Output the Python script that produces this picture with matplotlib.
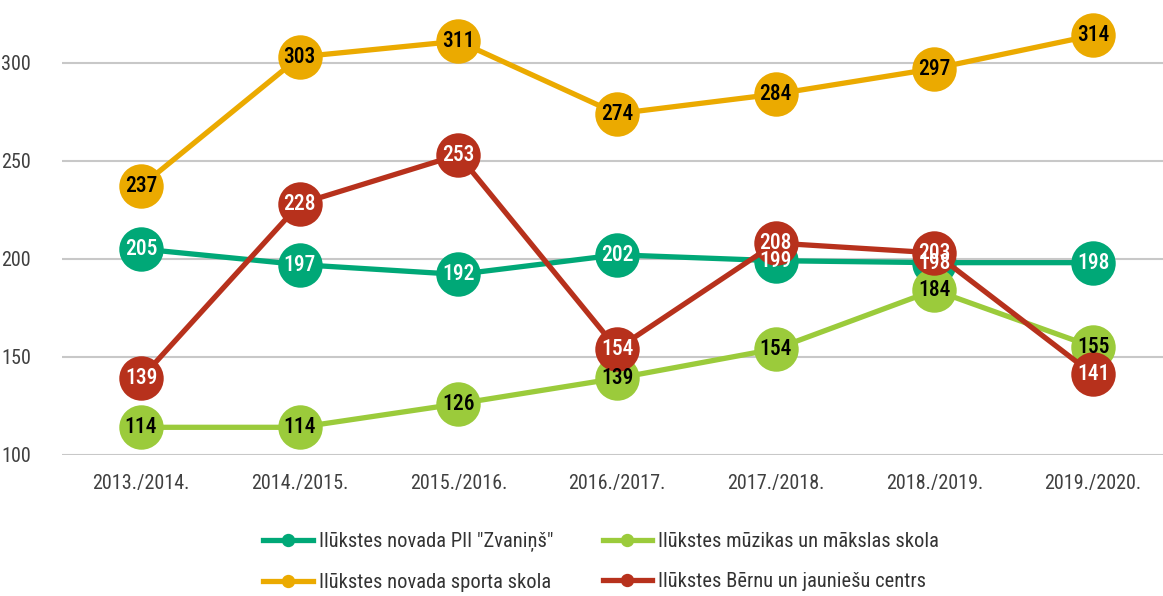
import matplotlib
matplotlib.use("Agg")
import matplotlib.pyplot as plt
from matplotlib import font_manager

# data
years = ["2013./2014.", "2014./2015.", "2015./2016.", "2016./2017.",
         "2017./2018.", "2018./2019.", "2019./2020."]
zvanins = [205, 197, 192, 202, 199, 198, 198]
muzikas = [114, 114, 126, 139, 154, 184, 155]
sporta = [237, 303, 311, 274, 284, 297, 314]
bjc = [139, 228, 253, 154, 208, 203, 141]

names = ['Ilūkstes novada PII "Zvaniņš"', "Ilūkstes mūzikas un mākslas skola",
         "Ilūkstes novada sporta skola", "Ilūkstes Bērnu un jauniešu centrs"]
colors = ["#00A877", "#9BCB3B", "#EBAA00", "#B7311C"]
txt_colors = ["white", "black", "black", "white"]

avail = {f.name for f in font_manager.fontManager.ttflist}
fam = [f for f in ["Roboto Condensed", "Liberation Sans Narrow", "DejaVu Sans"] if f in avail]
plt.rcParams["font.family"] = fam

fig = plt.figure(figsize=(11.63, 5.96), dpi=100)
ax = fig.add_axes([61.7 / 1163, 0.237, 1110.7 / 1163, 0.763])

x = list(range(len(years)))
series = [zvanins, muzikas, sporta, bjc]

lines = []
for i, s in enumerate(series):
    ln, = ax.plot(x, s, color=colors[i], lw=3.8, marker="o", ms=32,
                  mec="none", label=names[i], zorder=3 + i)
    lines.append(ln)
for i, s in enumerate(series):
    for xi, v in zip(x, s):
        ax.text(xi, v, str(v), ha="center", va="center", fontsize=15.5,
                fontweight="medium", color=txt_colors[i], zorder=10)

ax.set_xlim(-0.5, 6.5)
ax.set_ylim(100, 332)
ax.set_yticks([100, 150, 200, 250, 300])
ax.set_xticks(x)
ax.set_xticklabels(years)
ax.grid(axis="y", color="#C8C8C8", lw=1.5)
ax.set_axisbelow(True)
for sp in ax.spines.values():
    sp.set_visible(False)
ax.tick_params(length=0, labelsize=14.5, colors="#404040", pad=14)
ax.tick_params(axis="y", pad=22)

# legend fills column-first, so order the handles to get the reference rows
order = [0, 2, 1, 3]
leg = fig.legend([lines[k] for k in order], [names[k] for k in order],
                 ncol=2, loc="center", bbox_to_anchor=(0.517, 0.057),
                 frameon=False, fontsize=14.8, markerscale=0.3,
                 handlelength=2.4, columnspacing=2.4, labelspacing=1.05,
                 handletextpad=0.3)
for t in leg.get_texts():
    t.set_color("#333333")

fig.savefig("out.png", dpi=100)
